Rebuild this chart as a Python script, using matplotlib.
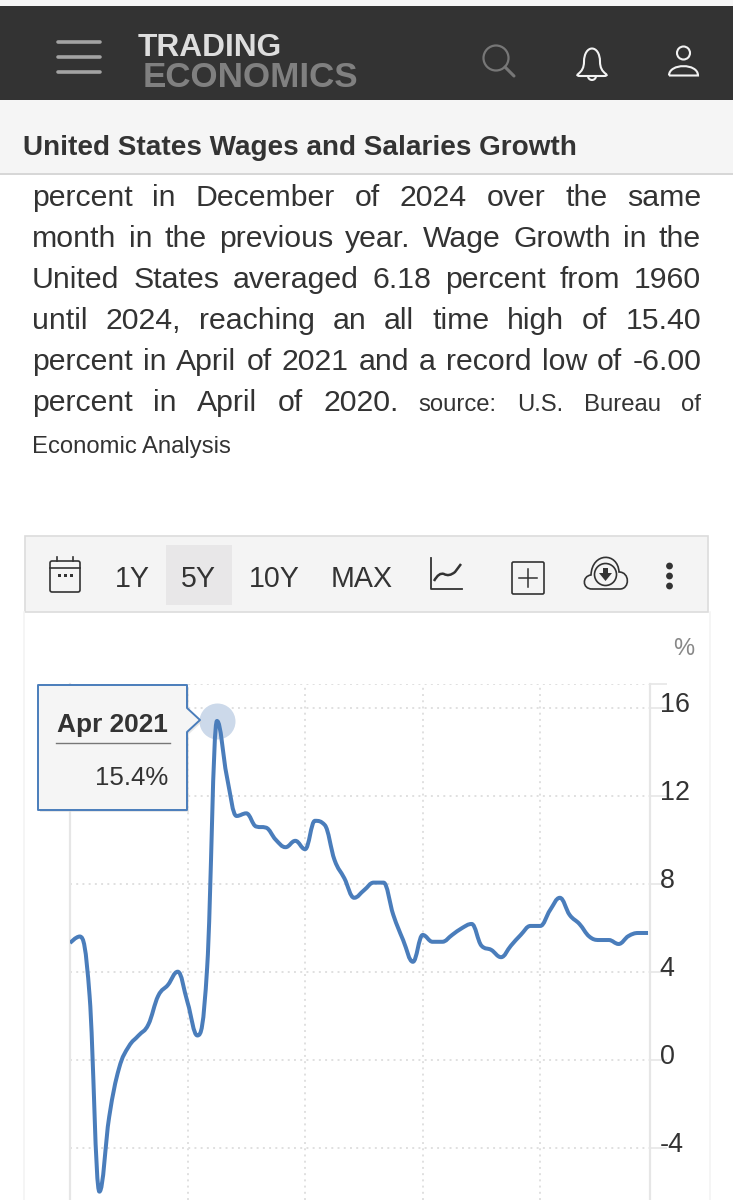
# Trading Economics phone screenshot: US wages and salaries growth, 5Y view
import matplotlib
matplotlib.use('Agg')
import numpy as np
import matplotlib.pyplot as plt
from matplotlib.path import Path
from matplotlib.patches import PathPatch, Rectangle, Circle, FancyBboxPatch, Polygon, Arc
from matplotlib.transforms import ScaledTranslation

plt.rcParams['font.family'] = ['Liberation Sans', 'DejaVu Sans']

# data, monthly from Jan 2020 to Dec 2024 [%]
growth = [5.30, 5.60, 2.90, -6.00, -2.60, -0.40, 0.60, 1.10, 1.60, 2.90, 3.40, 4.00,
          2.60, 1.10, 4.20, 15.40, 12.90, 11.08, 11.20, 10.60, 10.55, 10.00, 9.66, 9.95,
          9.57, 10.86, 10.67, 9.08, 8.25, 7.36, 7.70, 8.05, 8.05, 6.58, 5.44, 4.45,
          5.67, 5.36, 5.36, 5.67, 5.98, 6.17, 5.18, 4.99, 4.66, 5.18, 5.67, 6.08,
          6.08, 6.80, 7.36, 6.58, 6.17, 5.60, 5.44, 5.44, 5.26, 5.62, 5.76, 5.76]
y_ticks = [16, 12, 8, 4, 0, -4]
year_starts = [0, 12, 24, 36, 48]
peak_month = 15
periods = ['1Y', '5Y', '10Y', 'MAX']

title = 'United States Wages and Salaries Growth'
body_lines = ['percent in December of 2024 over the same',
              'month in the previous year. Wage Growth in the',
              'United States averaged 6.18 percent from 1960',
              'until 2024, reaching an all time high of 15.40',
              'percent in April of 2021 and a record low of -6.00']
last_big = 'percent in April of 2020.'
last_small = 'source: U.S. Bureau of'
source_end = 'Economic Analysis'

# layout, in pixels of the screenshot
W, H = 733, 1200
ax_left, ax_right, ax_top, ax_bottom = 70, 650, 684, 1200
blue = '#4a7dbb'
dark = '#333333'
axis_grey = '#e6e6e6'
px = 0.72  # points per pixel at dpi 100
body_size = 21.8
small_size = 17.2


def smooth_path(xs, ys):
    """
    Spline through the points, same control point rule as the site's chart.
    """
    n = len(xs)
    left = [None]*n
    right = [None]*n
    for i in range(n):
        x, y = xs[i], ys[i]
        if i == 0 or i == n-1:
            left[i] = right[i] = (x, y)
            continue
        xp, yp, xn, yn = xs[i-1], ys[i-1], xs[i+1], ys[i+1]
        lx, ly = (1.5*x + xp)/2.5, (1.5*y + yp)/2.5
        rx, ry = (1.5*x + xn)/2.5, (1.5*y + yn)/2.5
        corr = (ry - ly)*(rx - x)/(rx - lx) + y - ry
        ly += corr
        ry += corr
        if ly > max(yp, y):
            ly = max(yp, y); ry = 2*y - ly
        elif ly < min(yp, y):
            ly = min(yp, y); ry = 2*y - ly
        if ry > max(yn, y):
            ry = max(yn, y); ly = 2*y - ry
        elif ry < min(yn, y):
            ry = min(yn, y); ly = 2*y - ry
        left[i] = (lx, ly)
        right[i] = (rx, ry)
    verts = [(xs[0], ys[0])]
    codes = [Path.MOVETO]
    for i in range(1, n):
        verts += [right[i-1], left[i], (xs[i], ys[i])]
        codes += [Path.CURVE4]*3
    return Path(verts, codes)


def text_width(fig, ov, s, size, weight='normal'):
    t = ov.text(0, 0, s, fontsize=size, fontweight=weight)
    w = t.get_window_extent(fig.canvas.get_renderer()).width
    t.remove()
    return w


def justified(fig, ov, runs, y, x0, x1, color):
    """
    Place words so that the line fills x0..x1. runs is a list of (string, size).
    """
    words = []
    for s, size in runs:
        words += [(w, size) for w in s.split()]
    widths = [text_width(fig, ov, w, size) for w, size in words]
    gap = (x1 - x0 - sum(widths))/(len(words) - 1)
    x = x0
    for (w, size), ww in zip(words, widths):
        ov.text(x, y, w, fontsize=size, color=color, va='baseline', ha='left')
        x += ww + gap


def draw_header(ov):
    ov.add_patch(Rectangle((0, 0), W, 7, fc='#f6f6f6', ec='none'))
    ov.add_patch(Rectangle((0, 6), W, 94, fc=dark, ec='none'))
    ov.add_patch(Rectangle((0, 100), W, 73, fc='#f5f5f5', ec='none'))
    ov.plot([0, W], [173.5, 173.5], color='#cfcfcf', lw=1.2)

    # menu
    for y in [42, 57, 72]:
        ov.plot([58, 100], [y, y], color='#a3a3a3', lw=2.6, solid_capstyle='round')
    # logo
    ov.text(138, 56.5, 'TRADING', fontsize=22.8, fontweight='bold', color='#dedede', va='baseline')
    ov.text(143, 87, 'ECONOMICS', fontsize=25.2, fontweight='bold', color='#808080', va='baseline')
    # search
    ov.add_patch(Circle((496, 58), 12.5, fc='none', ec='#777777', lw=1.6))
    ov.plot([505, 514], [67, 76], color='#777777', lw=2.2, solid_capstyle='round')
    # bell
    bell = Path([(578, 74), (584, 70), (584, 62), (584, 44), (600, 44), (600, 62),
                 (600, 70), (606, 74), (608, 76), (604, 76), (580, 76), (576, 76), (578, 74)],
                [Path.MOVETO] + [Path.CURVE3]*2 + [Path.CURVE4]*3 + [Path.CURVE3]*4
                + [Path.LINETO] + [Path.CURVE3]*2)
    ov.add_patch(PathPatch(bell, fc='none', ec='#f2f2f2', lw=1.5))
    ov.add_patch(Arc((592, 76), 8, 8, theta1=0, theta2=180, ec='#f2f2f2', lw=1.5))
    # user
    ov.add_patch(Circle((683.5, 53), 6.5, fc='none', ec='#f2f2f2', lw=1.5))
    body = Path([(669, 75.5), (669, 63), (698, 63), (698, 75.5), (669, 75.5)],
                [Path.MOVETO] + [Path.CURVE4]*3 + [Path.LINETO])
    ov.add_patch(PathPatch(body, fc='none', ec='#f2f2f2', lw=1.5))

    ov.text(23, 155, title, fontsize=20.1, fontweight='bold', color=dark, va='baseline')


def draw_toolbar(ov):
    ov.add_patch(Rectangle((25, 536), 683, 76, fc='#f4f4f4', ec='#dcdcdc', lw=1.2))
    ov.add_patch(Rectangle((166, 545), 66, 60, fc='#e8e7e8', ec='none'))
    for s, x in zip(periods, [132, 198, 274, 362]):
        ov.text(x, 587, s, fontsize=20.6, color=dark, ha='center', va='baseline')

    # calendar
    ov.add_patch(FancyBboxPatch((50, 561), 30, 31, boxstyle='round,pad=0,rounding_size=2',
                                fc='none', ec=dark, lw=1.2))
    ov.plot([50, 80], [568, 568], color=dark, lw=1.2)
    ov.plot([57, 57], [557, 561], color=dark, lw=1.2)
    ov.plot([73, 73], [557, 561], color=dark, lw=1.2)
    for x in [59, 65, 71]:
        ov.add_patch(Rectangle((x-1.5, 574), 3, 3, fc=dark, ec='none'))
    # chart
    ov.plot([430.5, 430.5, 462], [558, 589, 589], color=dark, lw=1.3)
    squiggle = Path([(434, 581), (439, 572), (444, 574), (449, 577), (455, 572), (461, 564)],
                    [Path.MOVETO, Path.CURVE3, Path.CURVE3, Path.CURVE3, Path.CURVE3, Path.LINETO])
    ov.add_patch(PathPatch(squiggle, fc='none', ec=dark, lw=1.8))
    # plus box
    ov.add_patch(FancyBboxPatch((512, 562), 32, 32, boxstyle='round,pad=0,rounding_size=1.5',
                                fc='none', ec=dark, lw=1.2))
    ov.plot([528, 528], [569, 587], color=dark, lw=1.1)
    ov.plot([519, 537], [578, 578], color=dark, lw=1.1)
    # cloud
    cloud = Path([(592, 589), (582, 589), (582, 576), (591, 575), (592, 552), (618, 552),
                  (619, 572), (630, 572), (630, 589), (620, 589), (592, 589)],
                 [Path.MOVETO] + [Path.CURVE4]*9 + [Path.LINETO])
    ov.add_patch(PathPatch(cloud, fc='none', ec=dark, lw=1.2))
    ov.add_patch(Circle((605.5, 574.5), 11, fc='none', ec=dark, lw=1.2))
    ov.add_patch(Polygon([(603, 568), (608, 568), (608, 573), (612, 573), (605.5, 581),
                          (599, 573), (603, 573)], fc=dark, ec='none'))
    # dots
    for y in [566, 576, 586]:
        ov.add_patch(Circle((669.5, y), 3.4, fc=dark, ec='none'))


def draw_tooltip(ov):
    shape = [(38, 685), (187, 685), (187, 708), (200, 720), (187, 732), (187, 810), (38, 810)]
    ov.add_patch(Polygon([(x+2, y+2) for x, y in shape], fc='#d8d8d8', ec='none', alpha=0.6))
    ov.add_patch(Polygon(shape, fc='#f5f5f5', ec=blue, lw=1.4, joinstyle='round'))
    ov.text(57, 732, 'Apr 2021', fontsize=18.9, fontweight='bold', color=dark, va='baseline')
    ov.plot([56, 170], [742.7, 742.7], color='#777777', lw=1)
    ov.text(168, 785, '15.4%', fontsize=18.6, color=dark, ha='right', va='baseline')


def main():
    fig = plt.figure(figsize=(W/100, H/100), dpi=100, facecolor='white')

    # overlay in screenshot pixels, everything that is not the chart
    ov = fig.add_axes([0, 0, 1, 1], zorder=3)
    ov.set_xlim(0, W)
    ov.set_ylim(H, 0)
    ov.axis('off')
    ov.patch.set_alpha(0)

    draw_header(ov)
    for line, y in zip(body_lines, [206, 247, 288, 329, 370]):
        justified(fig, ov, [(line, body_size)], y, 32, 701, dark)
    justified(fig, ov, [(last_big, body_size), (last_small, small_size)], 411, 32, 701, dark)
    ov.text(32, 453, source_end, fontsize=small_size, color=dark, va='baseline')
    draw_toolbar(ov)
    ov.plot([23.5, 23.5], [612, H], color='#f4f4f4', lw=1.2)
    ov.plot([710, 710], [612, H], color='#f4f4f4', lw=1.2)
    ov.text(684, 655, '%', fontsize=17, color='#888888', ha='center', va='baseline')

    # chart
    ax = fig.add_axes([ax_left/W, 1 - ax_bottom/H, (ax_right - ax_left)/W, (ax_bottom - ax_top)/H],
                      zorder=2)
    months = np.arange(len(growth))
    ax.set_xlim(0, 59.2)
    ax.set_ylim(-6.38, 17.08)
    ax.set_xticks(year_starts)
    ax.set_xticklabels([])
    ax.set_yticks(y_ticks + [17.08], labels=[str(v) for v in y_ticks] + [''])
    ax.yaxis.tick_right()
    ax.grid(True, color='#e0e0e0', lw=1.4, linestyle=(0, (1, 2.2)))
    ax.xaxis.get_gridlines()[0].set_visible(False)
    ax.set_axisbelow(True)
    ax.tick_params(axis='x', length=0)
    ax.tick_params(axis='y', length=12, width=1.2, color=axis_grey, labelsize=19.4,
                   labelcolor=dark, pad=-5)
    shift = ScaledTranslation(0, 5.5/100, fig.dpi_scale_trans)
    for label in ax.get_yticklabels():
        label.set_transform(label.get_transform() + shift)
    for side in ['top', 'bottom']:
        ax.spines[side].set_visible(False)
    for side in ['left', 'right']:
        ax.spines[side].set_color(axis_grey)
        ax.spines[side].set_linewidth(1.6)

    ax.plot(peak_month, growth[peak_month], 'o', ms=36*px, color='#ccd9ea', mec='none', zorder=3)
    ax.add_patch(PathPatch(smooth_path(months, growth), fc='none', ec=blue, lw=4*px, zorder=4,
                           capstyle='butt', joinstyle='round'))

    draw_tooltip(ov)

    fig.savefig('out.png', dpi=100)


if __name__ == "__main__":
    main()
